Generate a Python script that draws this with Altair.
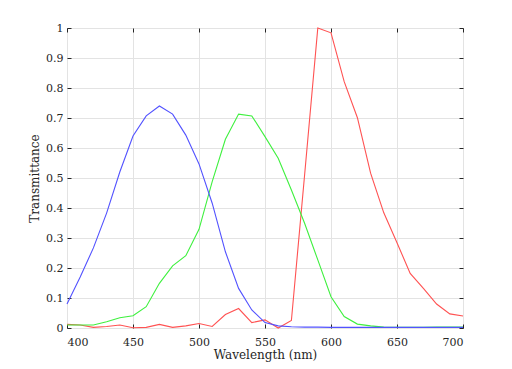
import altair as alt
import pandas as pd

wavelength = [400, 410, 420, 430, 440, 450, 460, 470, 480, 490, 500, 510, 520, 530, 540, 550,
              560, 570, 580, 590, 600, 610, 620, 630, 640, 650, 660, 670, 680, 690, 700]
red = [0.012, 0.010, 0.002, 0.005, 0.010, 0.001, 0.002, 0.012, 0.002, 0.007, 0.015, 0.005,
       0.045, 0.065, 0.018, 0.027, 0.000, 0.025, 0.510, 1.000, 0.984, 0.821, 0.701, 0.516,
       0.384, 0.284, 0.182, 0.132, 0.080, 0.047, 0.040]
green = [0.010, 0.010, 0.010, 0.021, 0.034, 0.041, 0.071, 0.149, 0.207, 0.241, 0.329, 0.488,
         0.629, 0.713, 0.707, 0.638, 0.566, 0.460, 0.349, 0.227, 0.104, 0.038, 0.013, 0.007,
         0.003, 0.002, 0.002, 0.002, 0.003, 0.003, 0.003]
blue = [0.080, 0.170, 0.267, 0.383, 0.520, 0.640, 0.707, 0.740, 0.713, 0.643, 0.547, 0.416,
        0.254, 0.132, 0.060, 0.018, 0.007, 0.004, 0.003, 0.003, 0.002, 0.002, 0.002, 0.002,
        0.002, 0.002, 0.002, 0.002, 0.002, 0.002, 0.002]
series_names = ["Red", "Green", "Blue"]
series_colors = ["#ff5252", "#3ef03e", "#5252ff"]
x_ticks = [400, 450, 500, 550, 600, 650, 700]
y_ticks = [0, 0.1, 0.2, 0.3, 0.4, 0.5, 0.6, 0.7, 0.8, 0.9, 1]

rows = []
for name, vals in zip(series_names, [red, green, blue]):
    for w, v in zip(wavelength, vals):
        rows.append({"wavelength": w, "value": v, "series": name})
df = pd.DataFrame(rows)

FONT = "DejaVu Serif"
xscale = alt.Scale(domain=[400, 700], nice=False, zero=False)
yscale = alt.Scale(domain=[0, 1], nice=False)
color = alt.Color("series:N", scale=alt.Scale(domain=series_names, range=series_colors), legend=None)

main = alt.Chart(df).mark_line(strokeWidth=1.1).encode(
    x=alt.X("wavelength:Q", scale=xscale,
            axis=alt.Axis(orient="bottom", values=x_ticks, title="Wavelength (nm)", grid=True,
                          domain=False, tickSize=4, offset=-4, labelPadding=8, titlePadding=2,
                          format="d", labelFont=FONT, titleFont=FONT)),
    y=alt.Y("value:Q", scale=yscale,
            axis=alt.Axis(orient="left", values=y_ticks, title="Transmittance", grid=True,
                          domain=False, tickSize=4, offset=-4, labelPadding=4, titlePadding=4,
                          format="~g", labelFont=FONT, titleFont=FONT)),
    color=color,
    detail="series:N",
)

ghost = alt.Chart(df).mark_line(strokeOpacity=0).encode(
    x=alt.X("wavelength:Q", scale=xscale,
            axis=alt.Axis(orient="top", values=x_ticks, title=None, labels=False, grid=False,
                          domain=False, tickSize=4, offset=-4)),
    y=alt.Y("value:Q", scale=yscale,
            axis=alt.Axis(orient="right", values=y_ticks, title=None, labels=False, grid=False,
                          domain=False, tickSize=4, offset=-4)),
    detail="series:N",
)

chart = alt.layer(ghost, main).resolve_axis(x="independent", y="independent").properties(
    width=396, height=300,
    autosize=alt.AutoSizeParams(type="none"),
    padding={"left": 59, "top": 20, "right": 41, "bottom": 36},
).configure_view(
    stroke="#262626", strokeWidth=1
).configure_axis(
    labelFont=FONT, titleFont=FONT, labelFontSize=11, titleFontSize=12,
    labelColor="#262626", titleColor="#262626", titleFontWeight="normal",
    tickColor="#262626", gridColor="#e3e3e3", gridWidth=1, tickWidth=1,
)

chart.save("out.html", embed_options={"renderer": "svg", "actions": False})
